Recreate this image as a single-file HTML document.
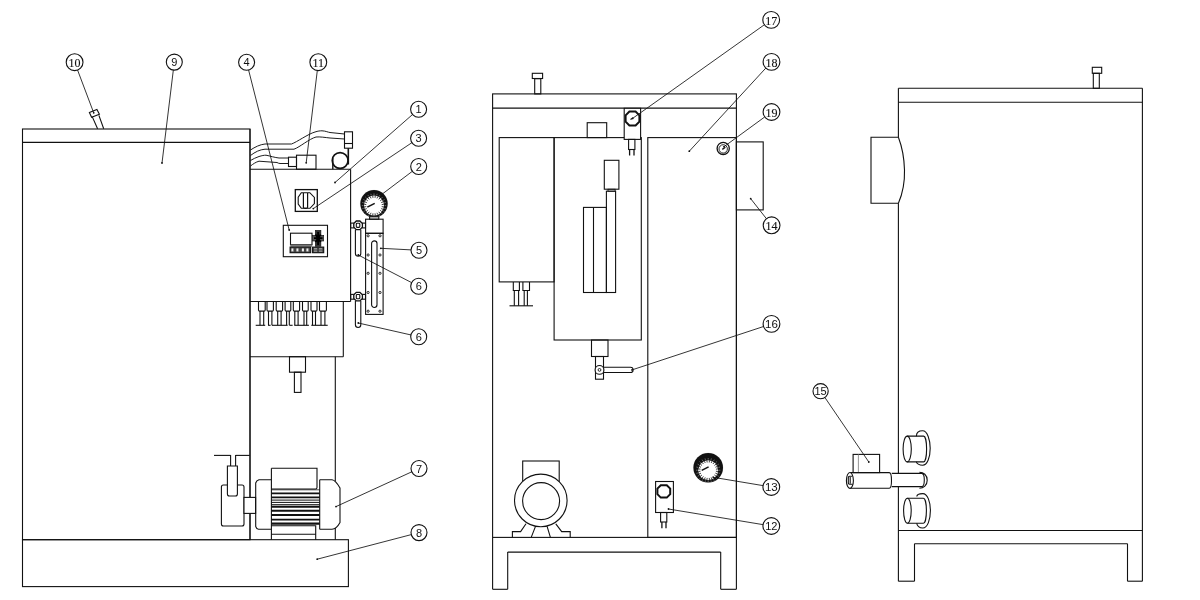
<!DOCTYPE html>
<html><head><meta charset="utf-8"><style>
html,body{margin:0;padding:0;background:#fff;width:1200px;height:600px;overflow:hidden}
svg{display:block} text{will-change:transform}
</style></head><body>
<svg width="1200" height="600" viewBox="0 0 1200 600">
<g fill="none" stroke="#111" stroke-width="1.1" stroke-linecap="butt" stroke-linejoin="miter">
<rect x="22.5" y="129.0" width="227.5" height="410.7"/>
<line x1="22.5" y1="142.4" x2="250" y2="142.4"/>
<line x1="250" y1="129.0" x2="250" y2="539.7"/>
<line x1="250" y1="169.2" x2="350.6" y2="169.2"/>
<line x1="350.6" y1="169.2" x2="350.6" y2="301.5"/>
<line x1="250" y1="301.5" x2="350.6" y2="301.5"/>
<line x1="343.3" y1="301.3" x2="343.3" y2="356.7"/>
<line x1="250" y1="356.7" x2="343.3" y2="356.7"/>
<line x1="335.3" y1="356.7" x2="335.3" y2="481"/>
<line x1="335.3" y1="528" x2="335.3" y2="539.7"/>
<rect x="22.5" y="539.7" width="325.9" height="46.9"/>
<path d="M97.6,128.8 L92.2,116.6 M103.7,128.8 L98.9,115.4"/>
<polygon points="89.4,112.6 96.9,109.4 99.4,114.2 91.6,117.2"/>
<path d="M250.5,150 C255,147 260,144.5 265,144 L291.5,144 C297,142 308,134 315,132 C318,131 320,130.8 322,130.8 C326,131 328,132.3 330,132.5 L344.5,134" stroke-width="0.95"/>
<path d="M250.5,155.5 C255,152 260,149.5 265,149.2 L294,149.2 C300,147 309,139 316,137 C320,136.6 325,137.5 330,138 L344.5,139" stroke-width="0.95"/>
<path d="M250.5,160.5 C253,159 256,157.5 259,156.5 C262,155.6 264,155.2 266,155.2 C270,156 275,157.6 279,158 L288.5,158" stroke-width="0.95"/>
<path d="M250.5,166 C253,164 256,162 259,161.2 L277,162.5 C278,163 279,163.5 280,163.5 L288.5,163.5" stroke-width="0.95"/>
<rect x="344.5" y="131.8" width="8.0" height="16.4"/>
<line x1="344.5" y1="143.5" x2="352.5" y2="143.5"/>
<line x1="348.3" y1="148.2" x2="348.3" y2="164.5" stroke-width="1.6"/>
<circle cx="340.1" cy="160.5" r="7.9" stroke-width="1.6"/>
<line x1="332.8" y1="158" x2="332.8" y2="169.2" stroke-width="1.4"/>
<rect x="288.5" y="157.2" width="8.0" height="9.3"/>
<rect x="296.5" y="155.2" width="19.5" height="14.0"/>
<rect x="295.3" y="189.6" width="22.0" height="21.8" stroke-width="1.3"/>
<path d="M301.3,192.7 L309.8,192.7 L314.4,197.4 L314.4,203.6 L310,208.3 L301.3,208.3 L298.2,204 L298.2,197.2 Z"/>
<path d="M303.4,193 L303.4,207.3 Q303.4,208.4 305.5,208.4 Q307.6,208.4 307.6,207.3 L307.6,193" stroke-width="1.2"/>
<circle cx="374.0" cy="203.8" r="13.7" stroke-width="0.1" fill="#111"/>
<circle cx="374.0" cy="205.6" r="10" stroke-width="0.1" fill="#fff"/>
<line x1="383.72" y1="206.88" x2="381.73" y2="206.62" stroke-width="0.8"/>
<line x1="383.05" y1="209.35" x2="381.21" y2="208.58" stroke-width="0.8"/>
<line x1="381.77" y1="211.57" x2="380.19" y2="210.35" stroke-width="0.8"/>
<line x1="379.97" y1="213.37" x2="378.75" y2="211.79" stroke-width="0.8"/>
<line x1="377.75" y1="214.65" x2="376.98" y2="212.81" stroke-width="0.8"/>
<line x1="375.28" y1="215.32" x2="375.02" y2="213.33" stroke-width="0.8"/>
<line x1="372.72" y1="215.32" x2="372.98" y2="213.33" stroke-width="0.8"/>
<line x1="370.25" y1="214.65" x2="371.02" y2="212.81" stroke-width="0.8"/>
<line x1="368.03" y1="213.37" x2="369.25" y2="211.79" stroke-width="0.8"/>
<line x1="366.23" y1="211.57" x2="367.81" y2="210.35" stroke-width="0.8"/>
<line x1="364.95" y1="209.35" x2="366.79" y2="208.58" stroke-width="0.8"/>
<line x1="364.28" y1="206.88" x2="366.27" y2="206.62" stroke-width="0.8"/>
<line x1="364.28" y1="204.32" x2="366.27" y2="204.58" stroke-width="0.8"/>
<line x1="364.95" y1="201.85" x2="366.79" y2="202.62" stroke-width="0.8"/>
<line x1="366.23" y1="199.63" x2="367.81" y2="200.85" stroke-width="0.8"/>
<line x1="368.03" y1="197.83" x2="369.25" y2="199.41" stroke-width="0.8"/>
<line x1="370.25" y1="196.55" x2="371.02" y2="198.39" stroke-width="0.8"/>
<line x1="372.72" y1="195.88" x2="372.98" y2="197.87" stroke-width="0.8"/>
<line x1="375.28" y1="195.88" x2="375.02" y2="197.87" stroke-width="0.8"/>
<line x1="377.75" y1="196.55" x2="376.98" y2="198.39" stroke-width="0.8"/>
<line x1="379.97" y1="197.83" x2="378.75" y2="199.41" stroke-width="0.8"/>
<line x1="381.77" y1="199.63" x2="380.19" y2="200.85" stroke-width="0.8"/>
<line x1="383.05" y1="201.85" x2="381.21" y2="202.62" stroke-width="0.8"/>
<line x1="383.72" y1="204.32" x2="381.73" y2="204.58" stroke-width="0.8"/>
<line x1="384.6" y1="205.6" x2="386.2" y2="205.6" stroke-width="0.5" stroke="#bbb"/>
<line x1="384.24" y1="208.34" x2="385.78" y2="208.76" stroke-width="0.5" stroke="#bbb"/>
<line x1="383.18" y1="210.9" x2="384.57" y2="211.7" stroke-width="0.5" stroke="#bbb"/>
<line x1="381.5" y1="213.1" x2="382.63" y2="214.23" stroke-width="0.5" stroke="#bbb"/>
<line x1="379.3" y1="214.78" x2="380.1" y2="216.17" stroke-width="0.5" stroke="#bbb"/>
<line x1="376.74" y1="215.84" x2="377.16" y2="217.38" stroke-width="0.5" stroke="#bbb"/>
<line x1="374.0" y1="216.2" x2="374.0" y2="217.8" stroke-width="0.5" stroke="#bbb"/>
<line x1="371.26" y1="215.84" x2="370.84" y2="217.38" stroke-width="0.5" stroke="#bbb"/>
<line x1="368.7" y1="214.78" x2="367.9" y2="216.17" stroke-width="0.5" stroke="#bbb"/>
<line x1="366.5" y1="213.1" x2="365.37" y2="214.23" stroke-width="0.5" stroke="#bbb"/>
<line x1="364.82" y1="210.9" x2="363.43" y2="211.7" stroke-width="0.5" stroke="#bbb"/>
<line x1="363.76" y1="208.34" x2="362.22" y2="208.76" stroke-width="0.5" stroke="#bbb"/>
<line x1="363.4" y1="205.6" x2="361.8" y2="205.6" stroke-width="0.5" stroke="#bbb"/>
<line x1="363.76" y1="202.86" x2="362.22" y2="202.44" stroke-width="0.5" stroke="#bbb"/>
<line x1="364.82" y1="200.3" x2="363.43" y2="199.5" stroke-width="0.5" stroke="#bbb"/>
<line x1="366.5" y1="198.1" x2="365.37" y2="196.97" stroke-width="0.5" stroke="#bbb"/>
<line x1="368.7" y1="196.42" x2="367.9" y2="195.03" stroke-width="0.5" stroke="#bbb"/>
<line x1="371.26" y1="195.36" x2="370.84" y2="193.82" stroke-width="0.5" stroke="#bbb"/>
<line x1="374.0" y1="195.0" x2="374.0" y2="193.4" stroke-width="0.5" stroke="#bbb"/>
<line x1="376.74" y1="195.36" x2="377.16" y2="193.82" stroke-width="0.5" stroke="#bbb"/>
<line x1="379.3" y1="196.42" x2="380.1" y2="195.03" stroke-width="0.5" stroke="#bbb"/>
<line x1="381.5" y1="198.1" x2="382.63" y2="196.97" stroke-width="0.5" stroke="#bbb"/>
<line x1="383.18" y1="200.3" x2="384.57" y2="199.5" stroke-width="0.5" stroke="#bbb"/>
<line x1="384.24" y1="202.86" x2="385.78" y2="202.44" stroke-width="0.5" stroke="#bbb"/>
<line x1="367.3" y1="207.2" x2="374.7" y2="203.3" stroke-width="1.5"/>
<rect x="369.6" y="216.8" width="9.2" height="2.4" fill="#fff"/>
<rect x="283.3" y="225.3" width="44.2" height="31.4"/>
<rect x="290.5" y="233.2" width="21.5" height="11.5"/>
<rect x="290.5" y="244.5" width="21.5" height="2.2" stroke-width="0.1" fill="#777"/>
<rect x="290.1" y="247.1" width="20.6" height="5.6" fill="#444"/>
<rect x="291.3" y="248.3" width="2.2" height="3.2" stroke-width="0.1" fill="#eee"/>
<rect x="296.3" y="248.3" width="2.2" height="3.2" stroke-width="0.1" fill="#eee"/>
<rect x="301.8" y="248.3" width="2.2" height="3.2" stroke-width="0.1" fill="#eee"/>
<rect x="306.3" y="248.3" width="2.2" height="3.2" stroke-width="0.1" fill="#eee"/>
<rect x="312.6" y="247.1" width="11.1" height="5.6" fill="#444"/>
<rect x="313.8" y="248.3" width="3.3" height="1.1" stroke-width="0.1" fill="#ccc"/>
<rect x="313.8" y="250.6" width="3.3" height="1.0" stroke-width="0.1" fill="#ccc"/>
<rect x="319" y="248.3" width="3.3" height="1.1" stroke-width="0.1" fill="#ccc"/>
<rect x="319" y="250.6" width="3.3" height="1.0" stroke-width="0.1" fill="#ccc"/>
<rect x="315.3" y="230.3" width="5.6" height="16.0" stroke-width="0.6" fill="#333"/>
<rect x="312.6" y="235.3" width="11.1" height="5.7" stroke-width="0.6" fill="#555"/>
<path d="M318.1,232 L318.1,245 M314,238.2 L322.5,238.2 M315.5,234.5 L320.7,242 M320.7,234.5 L315.5,242" stroke="#000" stroke-width="1.8"/>
<rect x="365.6" y="219.2" width="17.5" height="14.1"/>
<rect x="365.6" y="233.3" width="17.5" height="81.1"/>
<path d="M371.6,304.8 L371.6,243.6 A2.7,2.7 0 0 1 377,243.6 L377,304.8 A2.7,2.7 0 0 1 371.6,304.8"/>
<circle cx="368.1" cy="235.8" r="1.1" stroke-width="0.9"/>
<circle cx="380.0" cy="235.8" r="1.1" stroke-width="0.9"/>
<circle cx="368.1" cy="255" r="1.1" stroke-width="0.9"/>
<circle cx="380.0" cy="255" r="1.1" stroke-width="0.9"/>
<circle cx="368.1" cy="273.3" r="1.1" stroke-width="0.9"/>
<circle cx="380.0" cy="273.3" r="1.1" stroke-width="0.9"/>
<circle cx="368.1" cy="292.5" r="1.1" stroke-width="0.9"/>
<circle cx="380.0" cy="292.5" r="1.1" stroke-width="0.9"/>
<circle cx="368.1" cy="311.2" r="1.1" stroke-width="0.9"/>
<circle cx="380.0" cy="311.2" r="1.1" stroke-width="0.9"/>
<rect x="350.7" y="223.10000000000002" width="3.5" height="4.8"/>
<rect x="362" y="223.10000000000002" width="3.5" height="4.8"/>
<path d="M356.3,221.0 L359.9,221.0 L362.4,223.5 L362.4,227.10000000000002 L359.9,229.60000000000002 L356.3,229.60000000000002 L353.8,227.10000000000002 L353.8,223.5 Z" fill="#fff" stroke-width="1.3"/>
<rect x="356.3" y="223.2" width="3.5" height="4.2" rx="0.8"/>
<path d="M355.4,229.60000000000002 L355.4,253.40000000000003 A2.7,2.7 0 0 0 360.8,253.40000000000003 L360.8,229.60000000000002"/>
<rect x="350.7" y="294.40000000000003" width="3.5" height="4.8"/>
<rect x="362" y="294.40000000000003" width="3.5" height="4.8"/>
<path d="M356.3,292.3 L359.9,292.3 L362.4,294.8 L362.4,298.40000000000003 L359.9,300.90000000000003 L356.3,300.90000000000003 L353.8,298.40000000000003 L353.8,294.8 Z" fill="#fff" stroke-width="1.3"/>
<rect x="356.3" y="294.5" width="3.5" height="4.2" rx="0.8"/>
<path d="M355.4,300.90000000000003 L355.4,324.8 A2.7,2.7 0 0 0 360.8,324.8 L360.8,300.90000000000003"/>
<path d="M258.5,301.5 L258.5,309.9 Q258.5,311.1 259.7,311.1 L264.0,311.1 Q265.2,311.1 265.2,309.9 L265.2,301.5"/>
<line x1="260.0" y1="311.1" x2="260.0" y2="325.3"/>
<line x1="263.7" y1="311.1" x2="263.7" y2="325.3"/>
<path d="M267,301.5 L267,309.9 Q267,311.1 268.2,311.1 L272.2,311.1 Q273.4,311.1 273.4,309.9 L273.4,301.5"/>
<line x1="268.5" y1="311.1" x2="268.5" y2="325.3"/>
<line x1="271.9" y1="311.1" x2="271.9" y2="325.3"/>
<path d="M276.2,301.5 L276.2,309.9 Q276.2,311.1 277.4,311.1 L281.40000000000003,311.1 Q282.6,311.1 282.6,309.9 L282.6,301.5"/>
<line x1="277.7" y1="311.1" x2="277.7" y2="325.3"/>
<line x1="281.1" y1="311.1" x2="281.1" y2="325.3"/>
<path d="M285.1,301.5 L285.1,309.9 Q285.1,311.1 286.3,311.1 L289.6,311.1 Q290.8,311.1 290.8,309.9 L290.8,301.5"/>
<line x1="286.6" y1="311.1" x2="286.6" y2="325.3"/>
<line x1="289.3" y1="311.1" x2="289.3" y2="325.3"/>
<path d="M293.3,301.5 L293.3,309.9 Q293.3,311.1 294.5,311.1 L298.40000000000003,311.1 Q299.6,311.1 299.6,309.9 L299.6,301.5"/>
<line x1="294.8" y1="311.1" x2="294.8" y2="325.3"/>
<line x1="298.1" y1="311.1" x2="298.1" y2="325.3"/>
<path d="M302.5,301.5 L302.5,309.9 Q302.5,311.1 303.7,311.1 L307.0,311.1 Q308.2,311.1 308.2,309.9 L308.2,301.5"/>
<line x1="304.0" y1="311.1" x2="304.0" y2="325.3"/>
<line x1="306.7" y1="311.1" x2="306.7" y2="325.3"/>
<path d="M311,301.5 L311,309.9 Q311,311.1 312.2,311.1 L315.8,311.1 Q317,311.1 317,309.9 L317,301.5"/>
<line x1="312.5" y1="311.1" x2="312.5" y2="325.3"/>
<line x1="315.5" y1="311.1" x2="315.5" y2="325.3"/>
<path d="M319.5,301.5 L319.5,309.9 Q319.5,311.1 320.7,311.1 L325.2,311.1 Q326.4,311.1 326.4,309.9 L326.4,301.5"/>
<line x1="321.0" y1="311.1" x2="321.0" y2="325.3"/>
<line x1="324.9" y1="311.1" x2="324.9" y2="325.3"/>
<line x1="255.7" y1="325.3" x2="265.2" y2="325.3"/>
<line x1="268.1" y1="325.3" x2="270.6" y2="325.3"/>
<line x1="272" y1="325.3" x2="287.6" y2="325.3"/>
<line x1="289.4" y1="325.3" x2="292.6" y2="325.3"/>
<line x1="294.3" y1="325.3" x2="308.9" y2="325.3"/>
<line x1="311.3" y1="325.3" x2="327.7" y2="325.3"/>
<rect x="289.5" y="356.7" width="16.0" height="15.5"/>
<rect x="294.4" y="372.2" width="6.6" height="20.2"/>
<line x1="214" y1="455.4" x2="230.6" y2="455.4"/>
<line x1="235.6" y1="455.4" x2="249.8" y2="455.4"/>
<line x1="230.6" y1="454.9" x2="230.6" y2="466"/>
<line x1="235.6" y1="454.9" x2="235.6" y2="466"/>
<path d="M227.4,466 L227.4,494 Q227.4,496 229.4,496 L235.4,496 Q237.4,496 237.4,494 L237.4,466 Z"/>
<path d="M221.4,486.5 L221.4,524 Q221.4,526 223.4,526 L242,526 Q244,526 244,524 L244,487 Q244,485 242,485 L237.4,485 M227.4,485 L223.4,485 Q221.4,485 221.4,487"/>
<rect x="244" y="497.4" width="11.6" height="16.0" fill="#fff"/>
<path d="M271.4,479.7 L259,479.7 Q256.5,480.5 255.7,483 L255.7,526.5 Q256.5,529 258.5,529.3 L271.4,529.3"/>
<path d="M271.4,468.3 L317,468.3 L317,487.5 Q317,489 315.5,489 L271.4,489"/>
<line x1="271.4" y1="489.8" x2="319.7" y2="489.8" stroke-width="0.8"/>
<line x1="271.4" y1="493.4" x2="319.7" y2="493.4" stroke-width="1.9"/>
<line x1="271.4" y1="497.4" x2="319.7" y2="497.4" stroke-width="1.9"/>
<line x1="271.4" y1="500.1" x2="319.7" y2="500.1" stroke-width="1.0"/>
<line x1="271.4" y1="502.4" x2="319.7" y2="502.4" stroke-width="1.0"/>
<line x1="271.4" y1="504.7" x2="319.7" y2="504.7" stroke-width="1.0"/>
<line x1="271.4" y1="506.8" x2="319.7" y2="506.8" stroke-width="1.9"/>
<line x1="271.4" y1="510.7" x2="319.7" y2="510.7" stroke-width="1.9"/>
<line x1="271.4" y1="515" x2="319.7" y2="515" stroke-width="1.9"/>
<line x1="271.4" y1="519.6" x2="319.7" y2="519.6" stroke-width="1.9"/>
<line x1="271.4" y1="523.6" x2="319.7" y2="523.6" stroke-width="2.2"/>
<line x1="271.4" y1="468.3" x2="271.4" y2="539.7"/>
<line x1="319.7" y1="479.7" x2="319.7" y2="529.3"/>
<path d="M319.7,479.7 L332,479.7 Q335.5,480 340,488 L340,522.5 Q336.5,529 332,529.3 L319.7,529.3"/>
<path d="M271.4,525.7 L315.7,525.7 L315.7,539.7 M271.4,534.3 L315.7,534.3"/>
<rect x="492.6" y="93.9" width="243.8" height="443.5"/>
<line x1="492.6" y1="108.1" x2="736.4" y2="108.1"/>
<rect x="534.7" y="78.7" width="6.1" height="15.2"/>
<rect x="532.3" y="73.3" width="10.3" height="5.2"/>
<rect x="499.2" y="137.6" width="54.9" height="144.3"/>
<rect x="554.1" y="137.6" width="87.2" height="202.4"/>
<rect x="587.2" y="122.7" width="19.5" height="14.9"/>
<rect x="624.2" y="108.3" width="16.4" height="31.1" fill="#fff"/>
<path d="M629.4,111.6 L635.6,111.6 L639.4,115.4 L639.4,121.6 L635.6,125.4 L629.4,125.4 L625.6,121.6 L625.6,115.4 Z" stroke-width="2"/>
<line x1="630.5" y1="119.5" x2="633.3" y2="117.7" stroke-width="1.2"/>
<rect x="628.6" y="139.4" width="6.3" height="10.1"/>
<line x1="629.6" y1="149.5" x2="629.6" y2="155.5" stroke-width="1.3"/>
<line x1="634.0" y1="149.5" x2="634.0" y2="155.5" stroke-width="1.3"/>
<rect x="604.3" y="160.3" width="14.6" height="28.9"/>
<rect x="608" y="189.2" width="7.1" height="2.0" stroke-width="0.8"/>
<rect x="606.4" y="191.2" width="9.2" height="101.3"/>
<rect x="583.5" y="207.4" width="22.9" height="85.1"/>
<line x1="593.5" y1="207.4" x2="593.5" y2="292.5"/>
<path d="M513.3,281.9 L513.3,290.5 L519.4,290.5 L519.4,281.9"/>
<line x1="514.3" y1="290.5" x2="514.3" y2="305.8"/>
<line x1="518.6" y1="290.5" x2="518.6" y2="305.8"/>
<path d="M522.9,281.9 L522.9,290.5 L529.5,290.5 L529.5,281.9"/>
<line x1="524.2" y1="290.5" x2="524.2" y2="305.8"/>
<line x1="527.4" y1="290.5" x2="527.4" y2="305.8"/>
<line x1="509.5" y1="305.8" x2="533" y2="305.8"/>
<rect x="591.5" y="340" width="16.5" height="16.5"/>
<rect x="595.5" y="356.5" width="8.0" height="22.7"/>
<circle cx="599.5" cy="369.9" r="4.4" fill="#fff"/>
<circle cx="599.5" cy="369.9" r="1.4" stroke-width="0.9"/>
<path d="M603.9,367.3 L630.5,367.3 A2.6,2.6 0 0 1 630.5,372.5 L603.9,372.5"/>
<rect x="647.8" y="137.6" width="88.6" height="399.8"/>
<rect x="736.4" y="141.9" width="26.8" height="68.0"/>
<circle cx="723.2" cy="148.4" r="6.1" stroke-width="1.3"/>
<circle cx="723.2" cy="148.9" r="4.2" stroke-width="0.9"/>
<line x1="722.3" y1="149.4" x2="725.4" y2="147.2" stroke-width="1.3"/>
<line x1="507.7" y1="552.1" x2="720.7" y2="552.1"/>
<line x1="492.6" y1="537.4" x2="492.6" y2="589.3"/>
<line x1="492.6" y1="589.3" x2="507.7" y2="589.3"/>
<line x1="507.7" y1="552.1" x2="507.7" y2="589.3"/>
<line x1="736.4" y1="537.4" x2="736.4" y2="589.3"/>
<line x1="720.7" y1="589.3" x2="736.4" y2="589.3"/>
<line x1="720.7" y1="552.1" x2="720.7" y2="589.3"/>
<rect x="522.7" y="461" width="36.5" height="21"/>
<circle cx="540.8" cy="500.4" r="26.3" fill="#fff"/>
<circle cx="541.1" cy="501.1" r="18.5"/>
<path d="M526,523.8 L520.6,531.6 L512.4,531.6 L512.4,537.4 M555.8,523.8 L561.7,531.6 L570.2,531.6 L570.2,537.4 M535.5,526.4 L531.2,537.4 M547.1,526.4 L550.4,537.4"/>
<circle cx="708.2" cy="467.8" r="14.8" stroke-width="0.1" fill="#111"/>
<circle cx="708.2" cy="470.2" r="10" stroke-width="0.1" fill="#fff"/>
<line x1="717.92" y1="471.48" x2="715.93" y2="471.22" stroke-width="0.8"/>
<line x1="717.25" y1="473.95" x2="715.41" y2="473.18" stroke-width="0.8"/>
<line x1="715.97" y1="476.17" x2="714.39" y2="474.95" stroke-width="0.8"/>
<line x1="714.17" y1="477.97" x2="712.95" y2="476.39" stroke-width="0.8"/>
<line x1="711.95" y1="479.25" x2="711.18" y2="477.41" stroke-width="0.8"/>
<line x1="709.48" y1="479.92" x2="709.22" y2="477.93" stroke-width="0.8"/>
<line x1="706.92" y1="479.92" x2="707.18" y2="477.93" stroke-width="0.8"/>
<line x1="704.45" y1="479.25" x2="705.22" y2="477.41" stroke-width="0.8"/>
<line x1="702.23" y1="477.97" x2="703.45" y2="476.39" stroke-width="0.8"/>
<line x1="700.43" y1="476.17" x2="702.01" y2="474.95" stroke-width="0.8"/>
<line x1="699.15" y1="473.95" x2="700.99" y2="473.18" stroke-width="0.8"/>
<line x1="698.48" y1="471.48" x2="700.47" y2="471.22" stroke-width="0.8"/>
<line x1="698.48" y1="468.92" x2="700.47" y2="469.18" stroke-width="0.8"/>
<line x1="699.15" y1="466.45" x2="700.99" y2="467.22" stroke-width="0.8"/>
<line x1="700.43" y1="464.23" x2="702.01" y2="465.45" stroke-width="0.8"/>
<line x1="702.23" y1="462.43" x2="703.45" y2="464.01" stroke-width="0.8"/>
<line x1="704.45" y1="461.15" x2="705.22" y2="462.99" stroke-width="0.8"/>
<line x1="706.92" y1="460.48" x2="707.18" y2="462.47" stroke-width="0.8"/>
<line x1="709.48" y1="460.48" x2="709.22" y2="462.47" stroke-width="0.8"/>
<line x1="711.95" y1="461.15" x2="711.18" y2="462.99" stroke-width="0.8"/>
<line x1="714.17" y1="462.43" x2="712.95" y2="464.01" stroke-width="0.8"/>
<line x1="715.97" y1="464.23" x2="714.39" y2="465.45" stroke-width="0.8"/>
<line x1="717.25" y1="466.45" x2="715.41" y2="467.22" stroke-width="0.8"/>
<line x1="717.92" y1="468.92" x2="715.93" y2="469.18" stroke-width="0.8"/>
<line x1="718.8" y1="470.2" x2="720.4" y2="470.2" stroke-width="0.5" stroke="#bbb"/>
<line x1="718.44" y1="472.94" x2="719.98" y2="473.36" stroke-width="0.5" stroke="#bbb"/>
<line x1="717.38" y1="475.5" x2="718.77" y2="476.3" stroke-width="0.5" stroke="#bbb"/>
<line x1="715.7" y1="477.7" x2="716.83" y2="478.83" stroke-width="0.5" stroke="#bbb"/>
<line x1="713.5" y1="479.38" x2="714.3" y2="480.77" stroke-width="0.5" stroke="#bbb"/>
<line x1="710.94" y1="480.44" x2="711.36" y2="481.98" stroke-width="0.5" stroke="#bbb"/>
<line x1="708.2" y1="480.8" x2="708.2" y2="482.4" stroke-width="0.5" stroke="#bbb"/>
<line x1="705.46" y1="480.44" x2="705.04" y2="481.98" stroke-width="0.5" stroke="#bbb"/>
<line x1="702.9" y1="479.38" x2="702.1" y2="480.77" stroke-width="0.5" stroke="#bbb"/>
<line x1="700.7" y1="477.7" x2="699.57" y2="478.83" stroke-width="0.5" stroke="#bbb"/>
<line x1="699.02" y1="475.5" x2="697.63" y2="476.3" stroke-width="0.5" stroke="#bbb"/>
<line x1="697.96" y1="472.94" x2="696.42" y2="473.36" stroke-width="0.5" stroke="#bbb"/>
<line x1="697.6" y1="470.2" x2="696.0" y2="470.2" stroke-width="0.5" stroke="#bbb"/>
<line x1="697.96" y1="467.46" x2="696.42" y2="467.04" stroke-width="0.5" stroke="#bbb"/>
<line x1="699.02" y1="464.9" x2="697.63" y2="464.1" stroke-width="0.5" stroke="#bbb"/>
<line x1="700.7" y1="462.7" x2="699.57" y2="461.57" stroke-width="0.5" stroke="#bbb"/>
<line x1="702.9" y1="461.02" x2="702.1" y2="459.63" stroke-width="0.5" stroke="#bbb"/>
<line x1="705.46" y1="459.96" x2="705.04" y2="458.42" stroke-width="0.5" stroke="#bbb"/>
<line x1="708.2" y1="459.6" x2="708.2" y2="458.0" stroke-width="0.5" stroke="#bbb"/>
<line x1="710.94" y1="459.96" x2="711.36" y2="458.42" stroke-width="0.5" stroke="#bbb"/>
<line x1="713.5" y1="461.02" x2="714.3" y2="459.63" stroke-width="0.5" stroke="#bbb"/>
<line x1="715.7" y1="462.7" x2="716.83" y2="461.57" stroke-width="0.5" stroke="#bbb"/>
<line x1="717.38" y1="464.9" x2="718.77" y2="464.1" stroke-width="0.5" stroke="#bbb"/>
<line x1="718.44" y1="467.46" x2="719.98" y2="467.04" stroke-width="0.5" stroke="#bbb"/>
<line x1="701.7" y1="470.3" x2="708.6" y2="466.8" stroke-width="1.5"/>
<rect x="655.6" y="481.5" width="17.8" height="31.0"/>
<path d="M660.8,485.2 L666.8,485.2 L670.2,488.6 L670.2,494.2 L666.8,497.6 L660.8,497.6 L657.4,494.2 L657.4,488.6 Z" stroke-width="2"/>
<rect x="660.6" y="512.5" width="6.2" height="9.5"/>
<line x1="661.9" y1="522" x2="661.9" y2="528.3" stroke-width="1.3"/>
<line x1="666.0" y1="522" x2="666.0" y2="528.3" stroke-width="1.3"/>
<line x1="898.4" y1="88.3" x2="1142.4" y2="88.3"/>
<line x1="898.4" y1="102.3" x2="1142.4" y2="102.3"/>
<line x1="898.4" y1="88.3" x2="898.4" y2="137.3"/>
<line x1="898.4" y1="203.3" x2="898.4" y2="581.2"/>
<line x1="1142.4" y1="88.3" x2="1142.4" y2="581.2"/>
<line x1="898.4" y1="530.5" x2="1142.4" y2="530.5"/>
<line x1="914.5" y1="543.7" x2="1127.5" y2="543.7"/>
<line x1="914.5" y1="543.7" x2="914.5" y2="581.2"/>
<line x1="1127.5" y1="543.7" x2="1127.5" y2="581.2"/>
<line x1="898.4" y1="581.2" x2="914.5" y2="581.2"/>
<line x1="1127.5" y1="581.2" x2="1142.4" y2="581.2"/>
<rect x="1093.3" y="73.3" width="6.0" height="15.0"/>
<rect x="1092.3" y="67.3" width="9.4" height="6.0"/>
<path d="M898.4,137.3 L871,137.3 L871,203.3 L898.4,203.3 Q905,188 904.5,170 Q904,152 898.4,137.3"/>
<path d="M916.4,436.2 C916.4,432.6 919.2,430.8 922.6,430.8 C927.4,430.8 930.2,440 930.2,448.3 C930.2,457 927.4,465.3 922.6,465.3 C919.2,465.3 916.4,463.4 916.4,461.8"/>
<path d="M907.2,436.15 L923.6,436.15 A3,12.85 0 0 1 923.6,461.85 L907.2,461.85"/>
<ellipse cx="907.2" cy="449" rx="4.1" ry="12.85"/>
<path d="M916.8,496.6 C916.8,494.8 919.4,493.6 922.8,493.6 C927.6,493.6 930.4,502 930.4,510.5 C930.4,519.4 927.6,528 922.8,528 C919.4,528 916.8,525.8 916.8,523.3"/>
<path d="M907.4,498.3 L923.4,498.3 A3,12.5 0 0 1 923.4,523.3 L907.4,523.3"/>
<ellipse cx="907.4" cy="510.8" rx="3.8" ry="12.5"/>
<rect x="853.1" y="454.4" width="26.5" height="18.2"/>
<line x1="858.4" y1="454.4" x2="858.4" y2="472.6" stroke-width="0.9" stroke="#888"/>
<path d="M919.4,472.2 C923.5,472.2 927.2,475 927.2,480.2 C927.2,485.4 923.5,488.3 919.4,488.3"/>
<path d="M891.8,473.4 L921.7,473.4 A2.6,6.6 0 0 1 921.7,486.6 L891.8,486.6"/>
<rect x="892.3" y="474" width="29" height="12" fill="#fff" stroke="none"/>
<path d="M849.9,472.6 L889.2,472.6 A2.3,7.85 0 0 1 889.2,488.3 L849.9,488.3"/>
<ellipse cx="849.9" cy="480.45" rx="3.5" ry="7.9" fill="#fff"/>
<path d="M852.3,476.3 L849.6,476.3 Q848.3,476.3 848.3,477.8 L848.3,482.8 Q848.3,484.3 849.6,484.3 L852.3,484.3 M850.2,477 L850.2,483.6"/>
<circle cx="74.6" cy="62.2" r="8.4"/>
<line x1="77.57" y1="70.06" x2="93.7" y2="112.8" stroke-width="0.85"/>
<circle cx="93.7" cy="112.8" r="0.9" fill="#111" stroke="none"/>
<text x="74.6" y="66.80" font-family="Liberation Serif" font-size="12" text-anchor="middle" fill="#111" stroke="#111" stroke-width="0.12">10</text>
<circle cx="174.3" cy="62.1" r="8.0"/>
<line x1="173.33" y1="70.04" x2="162" y2="163" stroke-width="0.85"/>
<circle cx="162" cy="163" r="0.9" fill="#111" stroke="none"/>
<text x="174.3" y="66.20" font-family="Liberation Sans" font-size="11" text-anchor="middle" fill="#111" stroke="#111" stroke-width="0">9</text>
<circle cx="246.6" cy="62.2" r="8.0"/>
<line x1="248.57" y1="69.95" x2="289.2" y2="230" stroke-width="0.85"/>
<circle cx="289.2" cy="230" r="0.9" fill="#111" stroke="none"/>
<text x="246.6" y="66.30" font-family="Liberation Sans" font-size="11" text-anchor="middle" fill="#111" stroke="#111" stroke-width="0">4</text>
<circle cx="318.3" cy="62.2" r="8.4"/>
<line x1="317.3" y1="70.54" x2="306.2" y2="162.8" stroke-width="0.85"/>
<circle cx="306.2" cy="162.8" r="0.9" fill="#111" stroke="none"/>
<text x="318.3" y="66.80" font-family="Liberation Serif" font-size="12" text-anchor="middle" fill="#111" stroke="#111" stroke-width="0.12">11</text>
<circle cx="418.6" cy="109.2" r="8.0"/>
<line x1="412.58" y1="114.47" x2="335" y2="182.5" stroke-width="0.85"/>
<circle cx="335" cy="182.5" r="0.9" fill="#111" stroke="none"/>
<text x="418.6" y="113.30" font-family="Liberation Sans" font-size="11" text-anchor="middle" fill="#111" stroke="#111" stroke-width="0">1</text>
<circle cx="418.6" cy="138.2" r="8.0"/>
<line x1="411.95" y1="142.65" x2="313.3" y2="208.6" stroke-width="0.85"/>
<circle cx="313.3" cy="208.6" r="0.9" fill="#111" stroke="none"/>
<text x="418.6" y="142.30" font-family="Liberation Sans" font-size="11" text-anchor="middle" fill="#111" stroke="#111" stroke-width="0">3</text>
<circle cx="418.7" cy="166.5" r="8.0"/>
<line x1="412.32" y1="171.32" x2="381" y2="195" stroke-width="0.85"/>
<circle cx="381" cy="195" r="0.9" fill="#111" stroke="none"/>
<text x="418.7" y="170.60" font-family="Liberation Sans" font-size="11" text-anchor="middle" fill="#111" stroke="#111" stroke-width="0">2</text>
<circle cx="419" cy="250.3" r="8.0"/>
<line x1="411.01" y1="249.88" x2="380.8" y2="248.3" stroke-width="0.85"/>
<circle cx="380.8" cy="248.3" r="0.9" fill="#111" stroke="none"/>
<text x="419" y="254.40" font-family="Liberation Sans" font-size="11" text-anchor="middle" fill="#111" stroke="#111" stroke-width="0">5</text>
<circle cx="418.7" cy="286.3" r="8.0"/>
<line x1="411.6" y1="282.62" x2="358.3" y2="255" stroke-width="0.85"/>
<circle cx="358.3" cy="255" r="0.9" fill="#111" stroke="none"/>
<text x="418.7" y="290.40" font-family="Liberation Sans" font-size="11" text-anchor="middle" fill="#111" stroke="#111" stroke-width="0">6</text>
<circle cx="418.7" cy="336.7" r="8.0"/>
<line x1="410.9" y1="334.93" x2="358.3" y2="323" stroke-width="0.85"/>
<circle cx="358.3" cy="323" r="0.9" fill="#111" stroke="none"/>
<text x="418.7" y="340.80" font-family="Liberation Sans" font-size="11" text-anchor="middle" fill="#111" stroke="#111" stroke-width="0">6</text>
<circle cx="419" cy="468.5" r="8.0"/>
<line x1="411.73" y1="471.84" x2="336" y2="506.6" stroke-width="0.85"/>
<circle cx="336" cy="506.6" r="0.9" fill="#111" stroke="none"/>
<text x="419" y="472.60" font-family="Liberation Sans" font-size="11" text-anchor="middle" fill="#111" stroke="#111" stroke-width="0">7</text>
<circle cx="419" cy="532.6" r="8.0"/>
<line x1="411.26" y1="534.62" x2="317.2" y2="559.2" stroke-width="0.85"/>
<circle cx="317.2" cy="559.2" r="0.9" fill="#111" stroke="none"/>
<text x="419" y="536.70" font-family="Liberation Sans" font-size="11" text-anchor="middle" fill="#111" stroke="#111" stroke-width="0">8</text>
<circle cx="771.2" cy="19.9" r="8.4"/>
<line x1="764.35" y1="24.77" x2="632.6" y2="118.4" stroke-width="0.85"/>
<circle cx="632.6" cy="118.4" r="0.9" fill="#111" stroke="none"/>
<text x="771.2" y="24.50" font-family="Liberation Serif" font-size="12" text-anchor="middle" fill="#111" stroke="#111" stroke-width="0.12">17</text>
<circle cx="771.5" cy="61.9" r="8.4"/>
<line x1="765.81" y1="68.08" x2="689.3" y2="151.2" stroke-width="0.85"/>
<circle cx="689.3" cy="151.2" r="0.9" fill="#111" stroke="none"/>
<text x="771.5" y="66.50" font-family="Liberation Serif" font-size="12" text-anchor="middle" fill="#111" stroke="#111" stroke-width="0.12">18</text>
<circle cx="771.5" cy="112" r="8.4"/>
<line x1="764.72" y1="116.96" x2="724" y2="146.7" stroke-width="0.85"/>
<circle cx="724" cy="146.7" r="0.9" fill="#111" stroke="none"/>
<text x="771.5" y="116.60" font-family="Liberation Serif" font-size="12" text-anchor="middle" fill="#111" stroke="#111" stroke-width="0.12">19</text>
<circle cx="771.6" cy="225.3" r="8.4"/>
<line x1="766.41" y1="218.69" x2="750.7" y2="198.7" stroke-width="0.85"/>
<circle cx="750.7" cy="198.7" r="0.9" fill="#111" stroke="none"/>
<text x="771.6" y="229.90" font-family="Liberation Serif" font-size="12" text-anchor="middle" fill="#111" stroke="#111" stroke-width="0.12">14</text>
<circle cx="771.5" cy="323.9" r="8.4"/>
<line x1="763.52" y1="326.53" x2="632" y2="369.9" stroke-width="0.85"/>
<circle cx="632" cy="369.9" r="0.9" fill="#111" stroke="none"/>
<text x="771.5" y="328.00" font-family="Liberation Sans" font-size="11.5" text-anchor="middle" fill="#111" stroke="#111" stroke-width="0">16</text>
<circle cx="771.3" cy="487.0" r="8.4"/>
<line x1="763.02" y1="485.61" x2="713.3" y2="477.3" stroke-width="0.85"/>
<circle cx="713.3" cy="477.3" r="0.9" fill="#111" stroke="none"/>
<text x="771.3" y="491.10" font-family="Liberation Sans" font-size="11.5" text-anchor="middle" fill="#111" stroke="#111" stroke-width="0">13</text>
<circle cx="771.3" cy="526.0" r="8.4"/>
<line x1="763.01" y1="524.63" x2="668.5" y2="509" stroke-width="0.85"/>
<circle cx="668.5" cy="509" r="0.9" fill="#111" stroke="none"/>
<text x="771.3" y="530.10" font-family="Liberation Sans" font-size="11" text-anchor="middle" fill="#111" stroke="#111" stroke-width="0">12</text>
<circle cx="820.6" cy="391.2" r="7.6"/>
<line x1="824.88" y1="397.48" x2="868.8" y2="462" stroke-width="0.85"/>
<circle cx="868.8" cy="462" r="0.9" fill="#111" stroke="none"/>
<text x="820.6" y="395.30" font-family="Liberation Sans" font-size="11" text-anchor="middle" fill="#111" stroke="#111" stroke-width="0">15</text>
</g>
</svg>
</body></html>
